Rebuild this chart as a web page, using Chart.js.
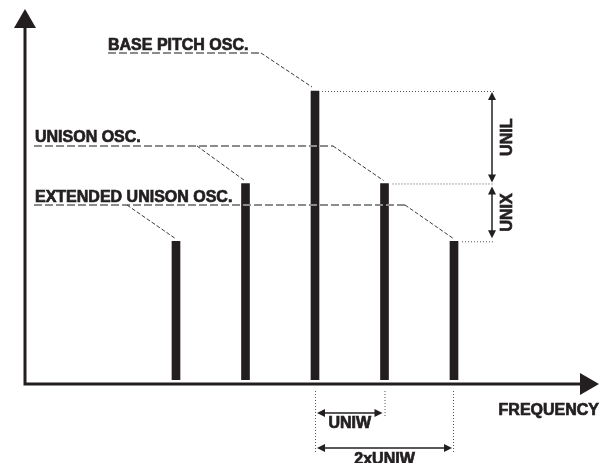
<!DOCTYPE html>
<html>
<head>
<meta charset="utf-8">
<script src="https://cdn.jsdelivr.net/npm/chart.js@4"></script>
<style>
  body { margin: 0; background: #fff; }
  canvas { display: block; }
</style>
</head>
<body>
<canvas id="oscChart" width="610" height="463"></canvas>
<script>
  // oscillator positions in UNIW steps around the base pitch, and their levels
  var freqs = [-2, -1, 0, 1, 2];
  var levels = [4.8, 6.8, 10, 6.8, 4.8];
  var oscLabels = ['EXTENDED UNISON OSC.', 'UNISON OSC.', 'BASE PITCH OSC.'];
  var axisLabel = 'FREQUENCY';
  var levelLabels = ['UNIL', 'UNIX'];
  var widthLabels = ['UNIW', '2xUNIW'];

  var ink = '#231f20';
  var FONT = 'bold 16px "Liberation Sans", Arial, sans-serif';

  function line(ctx, x1, y1, x2, y2) {
    ctx.beginPath();
    ctx.moveTo(x1, y1);
    ctx.lineTo(x2, y2);
    ctx.stroke();
  }

  // heavier text, the original uses a blacker face than Liberation bold
  function label(ctx, txt, x, y) {
    ctx.fillText(txt, x, y);
    ctx.strokeText(txt, x, y);
  }

  function head(ctx, x, y, dx, dy, len, half) {
    ctx.beginPath();
    ctx.moveTo(x, y);
    ctx.lineTo(x - dx * len - dy * half, y - dy * len + dx * half);
    ctx.lineTo(x - dx * len + dy * half, y - dy * len - dx * half);
    ctx.closePath();
    ctx.fill();
  }

  function dimArrow(ctx, x1, y1, x2, y2) {
    var d = Math.hypot(x2 - x1, y2 - y1), dx = (x2 - x1) / d, dy = (y2 - y1) / d;
    ctx.setLineDash([]);
    ctx.lineWidth = 1.5;
    ctx.strokeStyle = ink;
    ctx.fillStyle = ink;
    line(ctx, x1 + dx * 4, y1 + dy * 4, x2 - dx * 4, y2 - dy * 4);
    head(ctx, x2, y2, dx, dy, 8, 4);
    head(ctx, x1, y1, -dx, -dy, 8, 4);
  }

  var decor = {
    id: 'decor',
    afterDatasetsDraw: function (chart) {
      var ctx = chart.ctx, xs = chart.scales.x, ys = chart.scales.y;
      var px = function (i) { return xs.getPixelForValue(freqs[i]); };
      var py = function (i) { return ys.getPixelForValue(levels[i]); };
      var y0 = ys.getPixelForValue(0);
      var axY = y0 + 4;
      ctx.save();

      // axes with arrows
      ctx.strokeStyle = ink;
      ctx.fillStyle = ink;
      ctx.lineWidth = 3;
      ctx.lineJoin = 'miter';
      ctx.beginPath();
      ctx.moveTo(25, 26);
      ctx.lineTo(25, axY);
      ctx.lineTo(582, axY);
      ctx.stroke();
      ctx.beginPath();
      ctx.moveTo(25, 9); ctx.lineTo(36, 28); ctx.lineTo(14, 28); ctx.closePath();
      ctx.fill();
      ctx.beginPath();
      ctx.moveTo(599, axY); ctx.lineTo(580, axY - 11); ctx.lineTo(580, axY + 11); ctx.closePath();
      ctx.fill();

      // label underlines (thick grey dashes)
      ctx.strokeStyle = '#8c8c8c';
      ctx.lineWidth = 2;
      ctx.setLineDash([8, 3]);
      line(ctx, 108, 53, 261, 53);
      line(ctx, 34, 146, 333, 146);
      line(ctx, 34, 205, 405, 205);

      // leader lines to the bar tops
      ctx.strokeStyle = '#3a3a3a';
      ctx.lineWidth = 1;
      ctx.setLineDash([4, 2]);
      line(ctx, 261, 53, px(2) - 3, py(2) - 4);
      line(ctx, 197, 146, px(1) - 1, py(1) - 3);
      line(ctx, 333, 146, px(3) - 1, py(3) - 3);
      line(ctx, 127, 205, px(0) - 1, py(0) - 3);
      line(ctx, 405, 205, px(4) - 1, py(4) - 3);

      // dotted level guides
      ctx.strokeStyle = '#555';
      ctx.setLineDash([1, 2]);
      line(ctx, px(2) + 7, py(2) + 0.5, 494, py(2) + 0.5);
      line(ctx, px(3) + 8, py(3) + 0.5, 494, py(3) + 0.5);
      line(ctx, px(4) + 8, py(4) + 0.5, 494, py(4) + 0.5);
      line(ctx, px(2) + 0.5, axY + 7, px(2) + 0.5, 452);
      line(ctx, px(3) + 0.5, axY + 7, px(3) + 0.5, 417);
      line(ctx, px(4) - 0.5, axY + 7, px(4) - 0.5, 452);

      // dimension arrows
      dimArrow(ctx, 492, py(2) + 1, 492, py(3) - 1);
      dimArrow(ctx, 492, py(3) + 3, 492, py(4) - 3);
      dimArrow(ctx, px(2) + 2, 413, px(3) - 2, 413);
      dimArrow(ctx, px(2) + 2, 448, px(4) - 2, 448);

      // texts
      ctx.setLineDash([]);
      ctx.fillStyle = ink;
      ctx.strokeStyle = ink;
      ctx.lineWidth = 0.7;
      ctx.font = FONT;
      ctx.textBaseline = 'alphabetic';
      ctx.textAlign = 'left';
      label(ctx, oscLabels[2], 108, 50);
      label(ctx, oscLabels[1], 35, 142);
      label(ctx, oscLabels[0], 35, 202);
      ctx.textAlign = 'right';
      label(ctx, axisLabel, 599, 415);
      ctx.textAlign = 'center';
      label(ctx, widthLabels[0], (px(2) + px(3)) / 2, 428);
      label(ctx, widthLabels[1], (px(2) + px(4)) / 2, 464);

      ctx.textBaseline = 'middle';
      [[py(2), py(3)], [py(3), py(4)]].forEach(function (r, i) {
        ctx.save();
        ctx.translate(508, (r[0] + r[1]) / 2);
        ctx.rotate(-Math.PI / 2);
        label(ctx, levelLabels[i], 0, 0);
        ctx.restore();
      });
      ctx.restore();
    }
  };

  var ctx = document.getElementById('oscChart').getContext('2d');
  var oscChart = new Chart(ctx, {
    type: 'bar',
    data: {
      datasets: [{
        data: freqs.map(function (f, i) { return { x: f, y: levels[i] }; }),
        backgroundColor: ink,
        barThickness: 8
      }]
    },
    options: {
      responsive: false,
      animation: false,
      devicePixelRatio: 1,
      layout: { padding: { left: 37, right: 17, top: 33.2, bottom: 83 } },
      scales: {
        x: { type: 'linear', min: -4, max: 4, offset: false, display: false },
        y: { min: 0, max: 12, display: false }
      },
      plugins: {
        legend: { display: false },
        tooltip: { enabled: false }
      }
    },
    plugins: [decor]
  });
</script>
</body>
</html>
